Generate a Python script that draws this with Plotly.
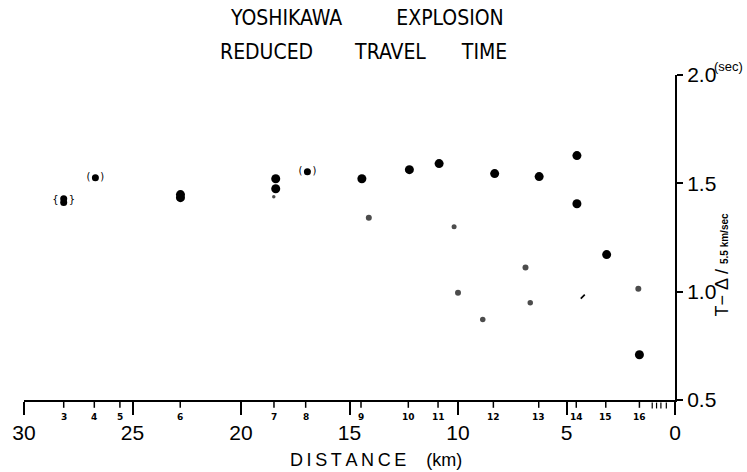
import plotly.graph_objects as go

# Reduced travel time (T - distance/5.5 km/s) versus epicentral distance
big_km = [22.79, 22.79, 18.40, 18.40, 14.43, 12.24, 10.87, 8.31, 6.26, 4.52, 4.52, 3.15, 1.64]
big_t = [1.448, 1.434, 1.521, 1.475, 1.521, 1.563, 1.591, 1.545, 1.531, 1.628, 1.406, 1.171, 0.709]

small_km = [18.49, 14.11, 10.18, 6.89, 10.00, 1.69, 6.67, 8.86]
small_t = [1.438, 1.341, 1.300, 1.111, 0.995, 1.014, 0.949, 0.871]
small_sz = [3.5, 6, 5, 6, 6, 6, 5.5, 5.5]

slash_km = [4.25]
slash_t = [0.977]

# uncertain readings (shown in brackets)
brk_km = [28.17, 28.17, 26.71, 16.94]
brk_t = [1.429, 1.411, 1.526, 1.554]
brk_txt_km = [28.17, 26.71, 16.94]
brk_txt_t = [1.420, 1.526, 1.554]
brk_txt = ["{\u2002\u2002}", "(\u2002\u2002)", "(\u2002\u2002)"]

# observation stations along the profile
station_km = [28.17, 26.76, 25.58, 22.80, 18.48, 17.02, 14.47, 12.29, 10.92, 8.37, 6.28, 4.55, 3.19, 1.64]
station_no = ["3", "4", "5", "6", "7", "8", "9", "10", "11", "12", "13", "14", "15", "16"]
extra_station_km = [1.05, 0.85, 0.65, 0.40]

x_ticks = [30, 25, 20, 15, 10, 5, 0]
y_ticks = [0.5, 1.0, 1.5, 2.0]
y_ticktext = ["0.5", "1.0", "1.5", "2.0"]

num_font = "Liberation Sans, Arial, sans-serif"
title_font = "DejaVu Sans Condensed, Liberation Sans Narrow, DejaVu Sans, sans-serif"
NB = "\u00a0"

fig = go.Figure()

fig.add_trace(go.Scatter(
    x=big_km, y=big_t, mode="markers",
    marker=dict(size=9, color="black", line=dict(width=0)), showlegend=False))
fig.add_trace(go.Scatter(
    x=small_km, y=small_t, mode="markers",
    marker=dict(size=small_sz, color="black", line=dict(width=0)), showlegend=False))
fig.add_trace(go.Scatter(
    x=slash_km, y=slash_t, mode="markers",
    marker=dict(size=4, symbol="line-ne", color="black",
                line=dict(color="black", width=1.6)), showlegend=False))
fig.add_trace(go.Scatter(
    x=brk_km, y=brk_t, mode="markers",
    marker=dict(size=7, color="black", line=dict(width=0)), showlegend=False))
fig.add_trace(go.Scatter(
    x=brk_txt_km, y=brk_txt_t, mode="text", text=brk_txt,
    textfont=dict(size=10, color="black", family="DejaVu Sans"),
    textposition="middle center", showlegend=False))

shapes = []
annotations = []
for km, no in zip(station_km, station_no):
    shapes.append(dict(type="line", xref="x", yref="paper", x0=km, x1=km,
                       y0=0, y1=-0.024, line=dict(color="black", width=1.5)))
    annotations.append(dict(xref="x", yref="paper", x=km, y=-0.052, text="<b>" + no + "</b>",
                            showarrow=False, font=dict(size=9, color="black", family="DejaVu Sans"),
                            xanchor="center", yanchor="middle"))
for km in extra_station_km:
    shapes.append(dict(type="line", xref="x", yref="paper", x0=km, x1=km,
                       y0=-0.008, y1=-0.026, line=dict(color="black", width=1.2)))

# titles
annotations.append(dict(xref="paper", yref="paper", x=(364 - 18) / 657, y=1.0 + (75 - 18) / 325,
                        text="YOSHIKAWA" + NB * 9 + "EXPLOSION",
                        showarrow=False, font=dict(size=21, color="black", family=title_font),
                        xanchor="center", yanchor="middle"))
annotations.append(dict(xref="paper", yref="paper", x=(361 - 18) / 657, y=1.0 + (75 - 52) / 325,
                        text="REDUCED" + NB * 7 + "TRAVEL" + NB * 6 + "TIME",
                        showarrow=False, font=dict(size=21, color="black", family=title_font),
                        xanchor="center", yanchor="middle"))
annotations.append(dict(xref="paper", yref="paper", x=(373 - 18) / 657, y=(400 - 460) / 325,
                        text="D\u2009I\u2009S\u2009T\u2009A\u2009N\u2009C\u2009E" + NB * 4 + "(km)",
                        showarrow=False, font=dict(size=18, color="black", family=num_font),
                        xanchor="center", yanchor="middle"))
annotations.append(dict(xref="paper", yref="paper", x=(729 - 18) / 657, y=(400 - 67) / 325,
                        text="(sec)", showarrow=False,
                        font=dict(size=13, color="black", family=num_font),
                        xanchor="center", yanchor="middle"))
annotations.append(dict(xref="paper", yref="paper", x=(722 - 18) / 657, y=(400 - 265) / 325,
                        text="T\u2212 \u0394 / <b><span style='font-size:10px'>5.5 km/sec</span></b>",
                        textangle=-90, showarrow=False,
                        font=dict(size=18, color="black", family=num_font),
                        xanchor="center", yanchor="middle"))

fig.update_layout(
    width=747, height=472,
    margin=dict(l=18, r=72, t=75, b=72),
    paper_bgcolor="white", plot_bgcolor="white",
    shapes=shapes, annotations=annotations,
    xaxis=dict(range=[30, 0], tickvals=x_ticks, ticks="outside", ticklen=13, tickwidth=1.6,
               tickcolor="black", showline=True, linecolor="black", linewidth=2,
               showgrid=False, zeroline=False,
               tickfont=dict(size=21, color="black", family=num_font)),
    yaxis=dict(range=[0.5, 2.0], side="right", tickvals=y_ticks, ticktext=y_ticktext,
               ticks="outside", ticklen=6, tickwidth=1.6, tickcolor="black",
               showline=True, linecolor="black", linewidth=2,
               showgrid=False, zeroline=False,
               tickfont=dict(size=21, color="black", family=num_font)),
)

fig.write_html("out.html")
